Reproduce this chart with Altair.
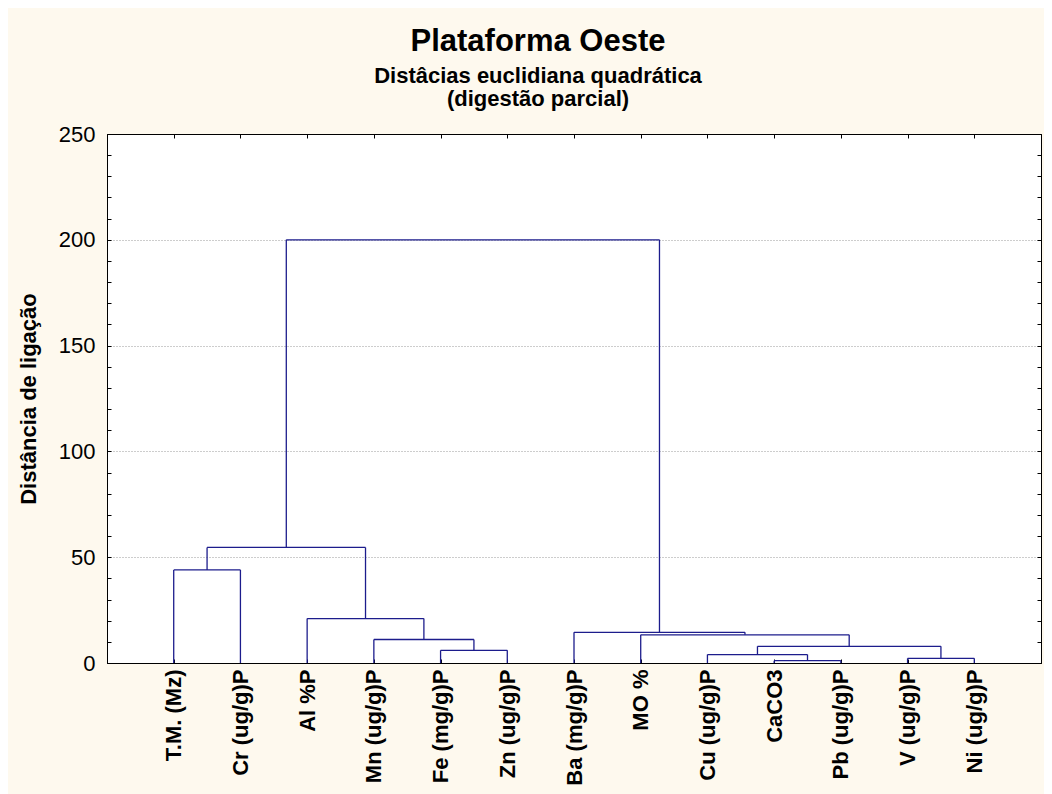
import json
import altair as alt
import pandas as pd

# Leaves (variables) in dendrogram order
leaves = ["T.M. (Mz)", "Cr (ug/g)P", "Al %P", "Mn (ug/g)P", "Fe (mg/g)P",
          "Zn (ug/g)P", "Ba (mg/g)P", "MO %", "Cu (ug/g)P", "CaCO3",
          "Pb (ug/g)P", "V (ug/g)P", "Ni (ug/g)P"]

# Linkage: children a/b (0..12 leaves, 13+ new clusters) and linkage distance
merge_a = [9, 11, 8, 4, 15, 3, 7, 6, 2, 0, 22, 23]
merge_b = [10, 12, 13, 5, 14, 16, 17, 19, 18, 1, 21, 20]
merge_h = [1.1, 2.2, 4.0, 6.0, 7.9, 11.1, 13.3, 14.5, 21.0, 44.0, 54.6, 200.0]

y_ticks = list(range(0, 251, 10))
leaf_pos = list(range(1, len(leaves) + 1))

# Build dendrogram segments from the linkage
nodes = {i: (leaf_pos[i], 0.0) for i in range(len(leaves))}
rows = []
for k, (a, b, h) in enumerate(zip(merge_a, merge_b, merge_h)):
    xa, ha = nodes[a]
    xb, hb = nodes[b]
    rows.append({"x": xa, "x2": xa, "y": ha, "y2": h})
    rows.append({"x": xb, "x2": xb, "y": hb, "y2": h})
    rows.append({"x": xa, "x2": xb, "y": h, "y2": h})
    nodes[len(leaves) + k] = ((xa + xb) / 2.0, h)
df = pd.DataFrame(rows)

FONT = "Liberation Sans"
label_js = json.dumps(leaves)

xscale = alt.Scale(domain=[0, len(leaves) + 1], nice=False, zero=False)
yscale = alt.Scale(domain=[0, 250], nice=False)

base = alt.Chart(df).mark_rule(color="#1C1C8C", strokeWidth=1.3).encode(
    x=alt.X("x:Q", scale=xscale,
            axis=alt.Axis(orient="bottom", values=leaf_pos, title=None,
                          labelExpr=f"{label_js}[datum.value - 1]",
                          labelAngle=-90, labelFontSize=22, labelFontWeight="bold",
                          labelFont=FONT, labelColor="black", labelPadding=10,
                          tickSize={"expr": "-4"}, tickColor="black",
                          domainColor="black", grid=False, labelOverlap=False)),
    x2="x2:Q",
    y=alt.Y("y:Q", scale=yscale,
            axis=alt.Axis(orient="left", values=y_ticks,
                          title="Distância de ligação",
                          titleFont=FONT, titleFontSize=22, titleFontWeight="bold",
                          titleColor="black", titlePadding=18,
                          labelExpr="datum.value % 50 === 0 ? datum.label : ''",
                          labelFont=FONT, labelFontSize=22, labelColor="black",
                          labelPadding=16, tickSize={"expr": "-4"}, tickColor="black",
                          domainColor="black", grid=True, gridColor="#9A9A9A",
                          gridDash=[1, 2],
                          gridOpacity={"condition": {"test": "datum.value % 50 === 0 && datum.value > 0 && datum.value < 250", "value": 1}, "value": 0},
                          labelOverlap=False)),
    y2="y2:Q",
)

frame = alt.Chart(df).mark_rule(opacity=0).encode(
    x=alt.X("x:Q", scale=xscale,
            axis=alt.Axis(orient="top", values=leaf_pos, labels=False, title=None,
                          tickSize={"expr": "-4"}, tickColor="black",
                          domainColor="black", grid=False)),
    y=alt.Y("y:Q", scale=yscale,
            axis=alt.Axis(orient="right", values=y_ticks, labels=False, title=None,
                          tickSize={"expr": "-4"}, tickColor="black",
                          domainColor="black", grid=False)),
)

chart = alt.layer(base, frame).resolve_axis(x="independent", y="independent").properties(
    width=934, height=529,
    autosize=alt.AutoSizeParams(type="none"),
    padding={"left": 99, "top": 126, "right": 3, "bottom": 131},
    background="#FEF9EE",
    title=alt.TitleParams(
        text="Plataforma Oeste",
        subtitle=["Distâcias euclidiana quadrática", "(digestão parcial)"],
        font=FONT, fontSize=31, fontWeight="bold", color="black",
        subtitleFont=FONT, subtitleFontSize=22, subtitleFontWeight="bold",
        subtitleColor="black", subtitleLineHeight=23, subtitlePadding=8,
        anchor="middle", frame="group", dx=-36, offset=12,
    ),
).configure_view(fill="white", stroke="black", strokeWidth=1)

chart.save("out.html", embed_options={"renderer": "svg", "actions": False})
